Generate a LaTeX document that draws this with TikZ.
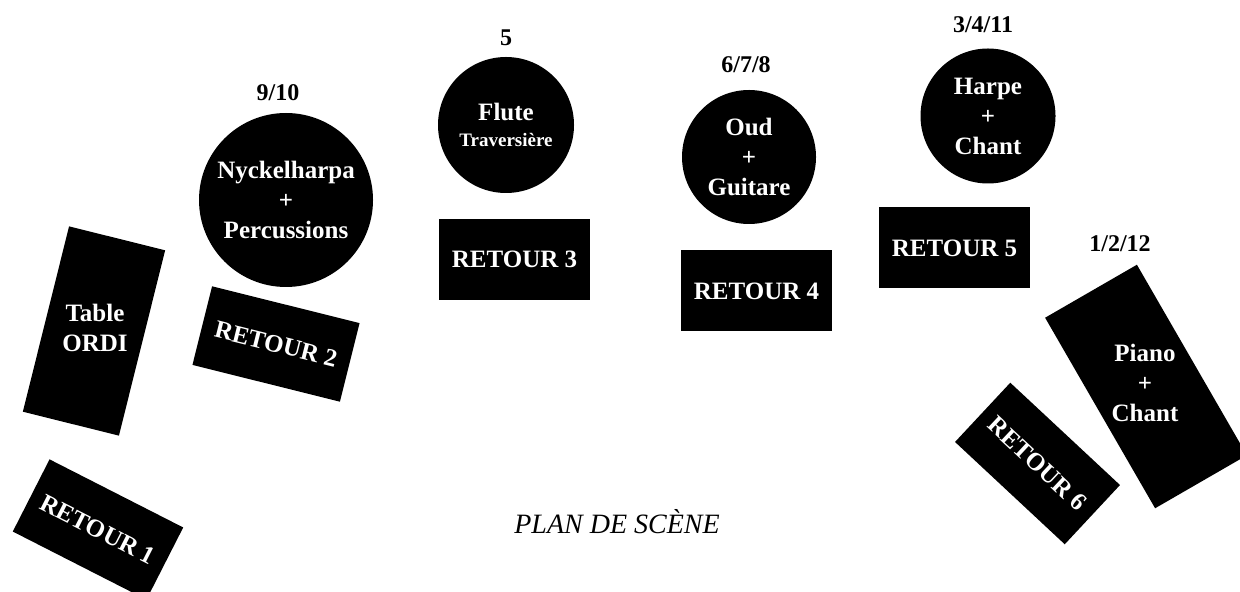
\documentclass[tikz,border=0pt]{standalone}
\usepackage{fontspec}
\setmainfont{Liberation Serif}
\newcommand\plfont{\bfseries\fontsize{12.5}{15}\selectfont}

\tikzset{
	instr/.style={circle,fill=black,text=white,inner sep=0,outer sep=0,align=center,font=\plfont},
	retour/.style={fill=black,text=white,inner sep=0,outer sep=0,minimum width=75.5pt,minimum height=40.5pt,font=\plfont},
	numlabel/.style={inner sep=0,font=\bfseries\fontsize{12}{14}\selectfont},
}

\begin{document}
\begin{tikzpicture}[x=0.5pt,y=-0.5pt]
	\useasboundingbox (0,0) rectangle (1240,592);
	\clip (0,0) rectangle (1240,592);
	% circles
	\node[instr,minimum size=87pt] (nyck) at (286,200) {Nyckelharpa\\+\\Percussions};
	\node[instr,minimum size=68pt] (flute) at (506,125) {Flute\\[-2pt]\fontsize{9.5}{11}\selectfont Traversi\`ere};
	\node[instr,minimum size=67pt] (oud) at (749,157) {Oud\\+\\Guitare};
	\node[instr,minimum size=67.5pt] (harpe) at (988,116) {Harpe\\+\\Chant};
	% numbers
	\node[numlabel] (n1) at (278,93) {9/10};
	\node[numlabel] (n2) at (506,38) {5};
	\node[numlabel] (n3) at (746,65) {6/7/8};
	\node[numlabel] (n4) at (983,25) {3/4/11};
	\node[numlabel] (n5) at (1120,244) {1/2/12};
	% retours
	\node[retour,rotate=-27,minimum width=75pt] (r1) at (98,529.5) {RETOUR 1};
	\node[retour,rotate=-14,minimum width=76pt] (r2) at (276,344) {RETOUR 2};
	\node[retour] (r3) at (514.5,259.5) {RETOUR 3};
	\node[retour] (r4) at (756.5,291) {RETOUR 4};
	\node[retour] (r5) at (954.5,248) {RETOUR 5};
	\node[retour,rotate=-43,minimum width=75pt] (r6) at (1037.5,463.5) {RETOUR 6};
	% tables
	\node[fill=black,rotate=-14,minimum width=49.5pt,minimum height=95.5pt] (ordi) at (94,331) {};
	\node[text=white,align=center,font=\plfont] (ordit) at (95,328) {Table\\ORDI};
	\node[fill=black,rotate=30,minimum width=53pt,minimum height=110pt] (piano) at (1146,386.5) {};
	\node[text=white,align=center,font=\plfont] (pianot) at (1145,383) {Piano\\+\\Chant};
	% title
	\node[font=\itshape\fontsize{14}{16}\selectfont] (titre) at (617,522) {PLAN DE SC\`ENE};
\end{tikzpicture}
\end{document}
